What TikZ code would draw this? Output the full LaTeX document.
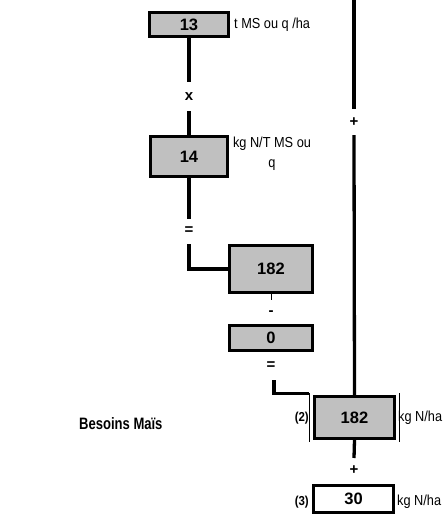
\documentclass[tikz,border=0pt]{standalone}
\usepackage{fontspec}
\setmainfont{Liberation Sans}
\newfontfamily\narrowfont[FakeStretch=0.88]{Liberation Sans}
\newfontfamily\titlefont[FakeStretch=0.79]{Liberation Sans}
\definecolor{boxgray}{HTML}{C0C0C0}
\tikzset{
  valbox/.style={draw=black, line width=3.3pt, fill=boxgray, inner sep=0pt,
    font=\fontsize{16.5}{18}\selectfont\bfseries},
  wbox/.style={valbox, fill=white},
  conn/.style={line width=3.3pt},
  op/.style={inner sep=0pt, font=\fontsize{15}{17}\selectfont\bfseries},
  lab/.style={inner sep=0pt, font=\narrowfont\fontsize{14.5}{20}\selectfont},
  smlab/.style={inner sep=0pt, font=\narrowfont\fontsize{13}{15}\selectfont\bfseries},
  title/.style={inner sep=0pt, font=\titlefont\fontsize{16.5}{18}\selectfont\bfseries}
}
\begin{document}
\begin{tikzpicture}[x=1pt,y=-1pt]
\useasboundingbox (0,0) rectangle (442,517);
% boxes
\node[valbox, minimum width=79pt, minimum height=24pt] (b13) at (189,24.5) {13};
\node[valbox, minimum width=77pt, minimum height=40pt] (b14) at (189,156.5) {14};
\node[valbox, minimum width=83pt, minimum height=47pt] (b182a) at (271,269) {182};
\node[valbox, minimum width=83pt, minimum height=25pt] (b0) at (271,338) {0};
\node[valbox, minimum width=80pt, minimum height=42pt] (b182b) at (354.5,417.5) {182};
\node[wbox, minimum width=80pt, minimum height=27pt] (b30) at (353.5,499) {30};
% thin outer lines of double box
\draw[line width=1pt] ([xshift=-3.5pt,yshift=1.6pt]b182b.north west) -- ([xshift=-3.5pt,yshift=-1.6pt]b182b.south west);
\draw[line width=1pt] ([xshift=3.5pt,yshift=1.6pt]b182b.north east) -- ([xshift=3.5pt,yshift=-1.6pt]b182b.south east);
% coordinates
\coordinate (c1) at (189,82);
\coordinate (c2) at (189,111);
\coordinate (c3) at (189,219);
\coordinate (c4) at (189,244);
\coordinate (c5) at (271,300);
\coordinate (c6) at (274,380);
\coordinate (r0) at (354,0);
\coordinate (r1) at (354,109);
\coordinate (r2) at (354,135);
\coordinate (c7) at (354,458);
% operators
\node[op] (ox) at (189,97) {x};
\node[op] (oeq1) at (189,231) {=};
\node[op] (omin) at (271,313) {-};
\node[op] (oeq2) at (271,366) {=};
\node[op] (opl1) at (354,122) {+};
\node[op] (opl2) at (354,470) {+};
% connectors
\draw[conn] (b13.south) -- (c1);
\draw[conn] (c2) -- (b14.north);
\draw[conn] (b14.south) -- (c3);
\draw[conn] (c4) |- (b182a.west);
\draw[line width=0.8pt] (b182a.south) -- (c5);
\draw[conn] (c6) |- ([xshift=-3.5pt,yshift=1.6pt]b182b.north west);
\draw[conn] (r0) -- (r1);
\draw[conn] (r2) -- (b182b.north);
\draw[conn] (b182b.south) -- (c7);
% labels
\node[lab, anchor=west] (l13) at (234,25) {t MS ou q /ha};
\node[lab, align=center] (l14) at (272,154) {kg N/T MS ou\\q};
\node[smlab, anchor=east] (l2) at (309,418) {(2)};
\node[lab, anchor=west] (l182) at (398,418) {kg N/ha};
\node[smlab, anchor=east] (l3) at (309,502) {(3)};
\node[lab, anchor=west] (l30) at (397,502) {kg N/ha};
\node[title, anchor=west] (tt) at (79,424) {Besoins Maïs};
\end{tikzpicture}
\end{document}
